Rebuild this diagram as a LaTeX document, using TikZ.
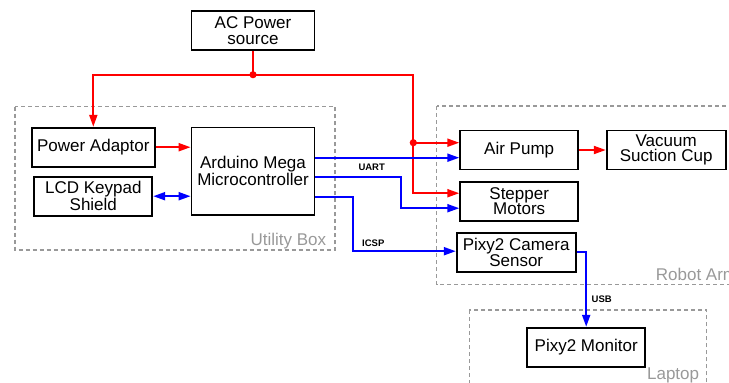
\documentclass[tikz,border=0pt]{standalone}
\usepackage{fontspec}
\setmainfont{Liberation Sans}
\usetikzlibrary{arrows.meta, positioning, calc}
\definecolor{cred}{HTML}{FF0000}
\definecolor{cblue}{HTML}{0000FF}
\definecolor{cgrey}{HTML}{999999}
\tikzset{
  every picture/.style={line width=1.8pt},
  box/.style={draw=black, fill=white, align=center, inner sep=0pt, minimum width=#1, minimum height=39pt, font=\fontsize{17}{15.7}\selectfont},
  box/.default=123pt,
  power/.style={draw=cred, line width=2pt},
  data/.style={draw=cblue, line width=2pt},
  arrow/.style={-{Triangle[length=12pt, width=8pt]}},
  twoway/.style={{Triangle[length=12pt, width=8pt]}-{Triangle[length=12pt, width=8pt]}},
  group/.style={draw=cgrey, line width=1.1pt, dash pattern=on 4pt off 3pt},
  grouplabel/.style={text=cgrey, inner sep=0pt, font=\fontsize{17}{17}\selectfont},
  buslabel/.style={inner sep=0pt, font=\fontsize{9.5}{10}\selectfont\bfseries},
}
\begin{document}
\begin{tikzpicture}[x=1pt, y=-1pt]
  \useasboundingbox (0,0) rectangle (729,383);
  \clip (0,0) rectangle (729,383);
  % ---------------- groups
  \draw[group] (15,106.7) rectangle (335,250);
  \node[grouplabel, anchor=base east] (utilitylabel) at (327,245) {Utility Box};
  \draw[group] (436.7,106) rectangle (760,284.3);
  \node[grouplabel, anchor=base west] (robotlabel) at (655,280) {Robot Arm};
  \draw[group] (469.3,310) rectangle (706.7,420);
  \node[grouplabel, anchor=base east] (laptoplabel) at (700,379.5) {Laptop};
  % ---------------- blocks
  \node[box] (ac) at (253,30.5) {AC Power\\source};
  \node[box] (adaptor) at (93.3,147.2) {Power Adaptor};
  \node[box=118pt] (lcd) at (93.3,196.2) {LCD Keypad\\Shield};
  \node[box, minimum height=87.5pt] (mega) at (253,171.3) {Arduino Mega\\Microcontroller};
  \node[box=118pt] (pump) at (519.2,150) {Air Pump};
  \node[box=119pt] (cup) at (666.2,150) {Vacuum\\Suction Cup};
  \node[box=118pt] (stepper) at (519.2,201.2) {Stepper\\Motors};
  \node[box=119pt] (pixy) at (516.2,252.2) {Pixy2 Camera\\Sensor};
  \node[box=118pt] (monitor) at (586.2,347.2) {Pixy2 Monitor};
  % ---------------- power lines
  \coordinate (split) at (253,74.7);
  \coordinate (riser) at (413.3,142.7);
  \draw[power] (ac.south) -- (split) -| (riser);
  \draw[power, arrow] (split) -| (adaptor.north);
  \draw[power, arrow] (riser) -- (riser -| pump.west);
  \draw[power, arrow] (riser) |- ($(stepper.west)+(0,-8)$);
  \draw[power, arrow] (adaptor.east) -- (adaptor.east -| mega.west);
  \draw[power, arrow] (pump) -- (cup);
  \fill[cred] (split) circle (3.6);
  \fill[cred] (riser) circle (3.6);
  % ---------------- data lines
  \draw[data, twoway] (lcd.east) -- (lcd.east -| mega.west);
  \draw[data, arrow] ($(mega.east)+(0,-13.6)$) -- ($(pump.west)+(0,7.7)$);
  \draw[data, arrow] ($(mega.east)+(0,5.4)$) -- ++(85.5,0) |- ($(stepper.west)+(0,7)$);
  \draw[data, arrow] ($(mega.east)+(0,25.4)$) -- ++(37.2,0) |- ($(pixy.west)+(0,-1)$);
  \draw[data, arrow] ($(pixy.east)+(0,-0.5)$) -| (monitor.north);
  \node[buslabel] (uart) at (371.7,167.7) {UART};
  \node[buslabel] (icsp) at (373.3,243.3) {ICSP};
  \node[buslabel] (usb) at (601.7,299) {USB};
\end{tikzpicture}
\end{document}
